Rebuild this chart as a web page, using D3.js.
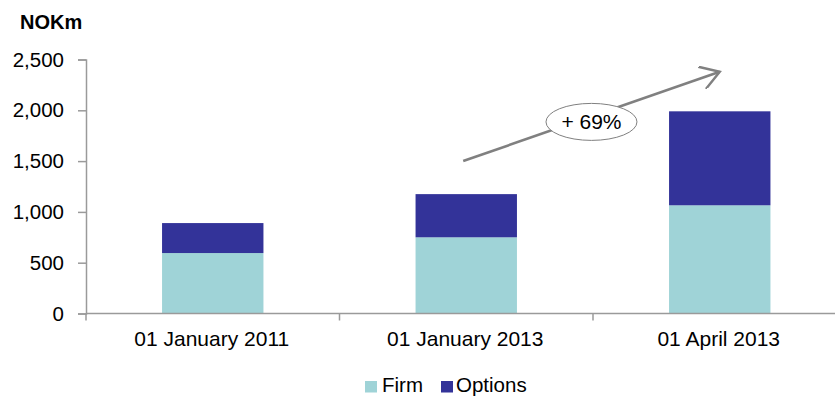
<!DOCTYPE html>
<html>
<head>
<meta charset="utf-8">
<script src="https://cdn.jsdelivr.net/npm/d3@7/dist/d3.min.js"></script>
<style>
  html, body { margin: 0; padding: 0; background: #fff; }
  svg { display: block; font-family: Arial, "Liberation Sans", sans-serif; }
</style>
</head>
<body>
<svg id="chart" width="835" height="396"></svg>
<script>
// Order book by date, NOK millions
const categories = ["01 January 2011", "01 January 2013", "01 April 2013"];
const firm = [595, 750, 1065];
const options = [890 - 595, 1175 - 750, 1990 - 1065];
const seriesNames = ["Firm", "Options"];
const yTicks = [0, 500, 1000, 1500, 2000, 2500];
const colors = { Firm: "#9fd3d7", Options: "#333399" };

const svg = d3.select("#chart");
const axisColor = "#9a9a9a";
const fontSize = 20.5;

const x = d3.scaleBand()
  .domain(categories)
  .range([86, 846.5])
  .paddingInner(0.6)
  .paddingOuter(0.3);

const y = d3.scaleLinear()
  .domain([0, 2500])
  .range([313.5, 59.5]);

const rows = categories.map((c, i) => ({ cat: c, Firm: firm[i], Options: options[i] }));
const stacked = d3.stack().keys(seriesNames)(rows);

// stacked bars
svg.append("g")
  .selectAll("g")
  .data(stacked)
  .join("g")
  .attr("fill", d => colors[d.key])
  .selectAll("rect")
  .data(d => d)
  .join("rect")
  .attr("x", d => x(d.data.cat))
  .attr("width", x.bandwidth())
  .attr("y", d => y(d[1]))
  .attr("height", d => y(d[0]) - y(d[1]));

// y axis
const yAxis = svg.append("g")
  .attr("transform", "translate(86,0)")
  .call(d3.axisLeft(y).tickValues(yTicks).tickSize(8).tickPadding(14)
    .tickFormat(d3.format(",")));
yAxis.select(".domain").attr("stroke", axisColor).attr("stroke-width", 1.5);
yAxis.selectAll(".tick line").attr("stroke", axisColor).attr("stroke-width", 1.5);
yAxis.selectAll(".tick text").attr("font-size", fontSize).attr("fill", "#000")
  .attr("font-family", "Arial, 'Liberation Sans', sans-serif");

// x axis with ticks between categories
const xAxisG = svg.append("g").attr("transform", `translate(0,${y(0)})`);
xAxisG.append("line")
  .attr("x1", 86).attr("x2", 846.5)
  .attr("stroke", axisColor).attr("stroke-width", 1.5);
const step = x.step();
const boundaries = d3.range(categories.length + 1).map(i => x.range()[0] + i * step);
xAxisG.selectAll("line.sep")
  .data(boundaries)
  .join("line")
  .attr("class", "sep")
  .attr("x1", d => d).attr("x2", d => d)
  .attr("y1", 0).attr("y2", 7)
  .attr("stroke", axisColor).attr("stroke-width", 1.5);
xAxisG.selectAll("text")
  .data(categories)
  .join("text")
  .attr("x", d => x(d) + x.bandwidth() / 2 - 1)
  .attr("y", 32.5)
  .attr("text-anchor", "middle")
  .attr("font-size", 21)
  .attr("fill", "#000")
  .text(d => d);

// unit label
svg.append("text")
  .attr("x", 20).attr("y", 29)
  .attr("font-size", 20)
  .attr("font-weight", "bold")
  .attr("fill", "#000")
  .text("NOKm");

// growth arrow between the last two totals
const totals = rows.map(r => r.Firm + r.Options);
const growth = Math.round((totals[2] / totals[1] - 1) * 100);

const defs = svg.append("defs");
defs.append("marker")
  .attr("id", "chev")
  .attr("viewBox", "0 0 10 10")
  .attr("refX", 9).attr("refY", 5)
  .attr("markerWidth", 9).attr("markerHeight", 9)
  .attr("markerUnits", "strokeWidth")
  .attr("orient", "auto")
  .append("path")
  .attr("d", "M1,0 L9,5 L1,10")
  .attr("fill", "none")
  .attr("stroke", "#808080")
  .attr("stroke-width", 1.05);

const ax1 = x(categories[1]) + x.bandwidth() * 0.47;
const ay1 = y(1500);
const ax2 = x(categories[2]) + x.bandwidth() * 0.5;
const ay2 = y(2380);
svg.append("line")
  .attr("x1", ax1).attr("y1", ay1)
  .attr("x2", ax2).attr("y2", ay2)
  .attr("stroke", "#808080")
  .attr("stroke-width", 2.6)
  .attr("marker-end", "url(#chev)");

const cx = (ax1 + ax2) / 2;
const cy = (ay1 + ay2) / 2 + 5.5;
svg.append("ellipse")
  .attr("cx", cx).attr("cy", cy)
  .attr("rx", 45.5).attr("ry", 18.5)
  .attr("fill", "#fff")
  .attr("stroke", "#808080")
  .attr("stroke-width", 1);
svg.append("text")
  .attr("x", cx).attr("y", cy + 7.5)
  .attr("text-anchor", "middle")
  .attr("font-size", 21)
  .attr("fill", "#000")
  .text(`+ ${growth}%`);

// legend
const legend = svg.append("g");
const legendItems = [
  { name: "Firm", sx: 365, tx: 382 },
  { name: "Options", sx: 441, tx: 456 }
];
legend.selectAll("rect")
  .data(legendItems)
  .join("rect")
  .attr("x", d => d.sx).attr("y", 381)
  .attr("width", 12).attr("height", 11.5)
  .attr("fill", d => colors[d.name]);
legend.selectAll("text")
  .data(legendItems)
  .join("text")
  .attr("x", d => d.tx).attr("y", 391.5)
  .attr("font-size", 20.5)
  .attr("fill", "#000")
  .text(d => d.name);
</script>
</body>
</html>
